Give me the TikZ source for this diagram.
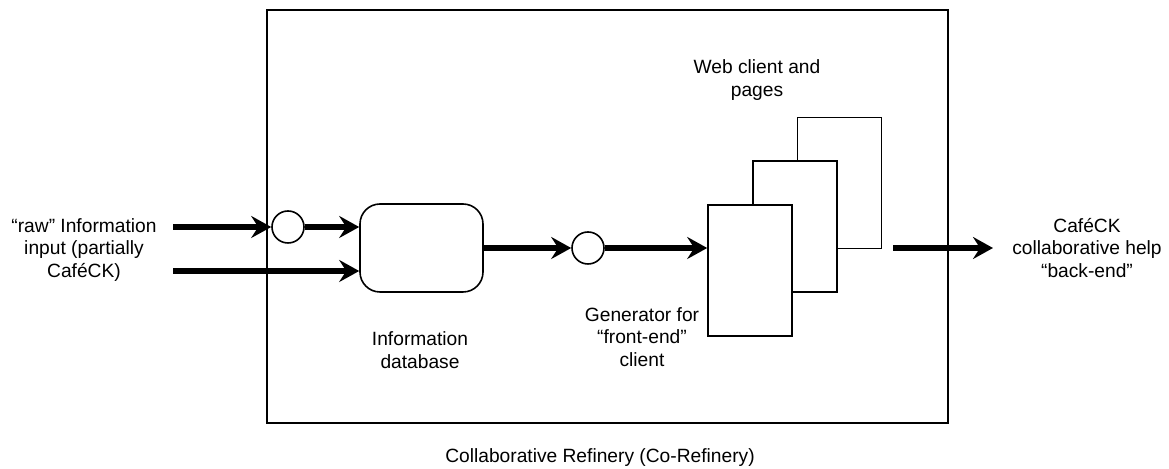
\documentclass[tikz,border=0pt]{standalone}
\usepackage{fontspec}
\setmainfont{Liberation Sans}
\usepackage{tikz}
\usetikzlibrary{positioning, arrows.meta, calc}

\begin{document}
\begin{tikzpicture}[x=0.5pt, y=-0.5pt, >=Stealth,
      font=\fontsize{9.6}{11.3}\selectfont,
      flow/.style={->, line width=2.6pt,
        arrows={-Stealth[length=10pt, width=11pt, inset=3.5pt]}},
      hub/.style={draw, circle, line width=0.8pt, minimum size=16pt, inner sep=0pt},
      store/.style={draw, rounded corners=10pt, line width=0.8pt,
        minimum width=61.5pt, minimum height=44pt, inner sep=0pt},
      pagebox/.style={draw, fill=white, line width=0.8pt,
        minimum width=42pt, minimum height=65.5pt, inner sep=0pt},
      lbl/.style={align=center, inner sep=1pt},
      frame/.style={draw, line width=0.9pt, minimum width=340.5pt,
        minimum height=206.5pt, inner sep=0pt}]

    \useasboundingbox (0,0) rectangle (1169,469);

    %% ---- the refinery box -----------------------------------------------
    \node[frame] (refinery) at (607.5,216.5) {};
    \node[lbl] (caption) at (600,458) {Collaborative Refinery (Co-Refinery)};

    %% ---- inputs -----------------------------------------------------------
    \node[lbl] (rawtxt) at (84,250)
      {“raw” Information\\input (partially\\CaféCK)};
    \coordinate (in1s) at (173,227);
    \coordinate (in2s) at (173,271);

    \node[hub]   (c1) at (288,227) {};
    \node[store] (db) at (421.5,248) {};
    \node[lbl] (dbtxt) at (420,350) {Information\\database};

    %% ---- generator and pages ----------------------------------------------
    \node[hub] (c2) at (588,248) {};
    \node[lbl] (gentxt) at (642,337) {Generator for\\“front-end”\\client};

    \node[pagebox] (back)  at (839.5,183) {};
    \node[pagebox] (mid)   at (795,226.5) {};
    \node[pagebox] (front) at (750,270.5) {};
    \node[lbl] (webtxt) at (757,80) {Web client and\\pages};

    %% ---- output -------------------------------------------------------------
    \coordinate (outs) at (893,248);
    \coordinate (oute) at (993,248);
    \node[lbl] (outtxt) at (1087,248)
      {CaféCK\\collaborative help\\“back-end”};

    %% ---- arrows ---------------------------------------------------------------
    \draw[flow] (in1s) -- (c1.west);
    \draw[flow] (c1.east) -- (c1 -| db.west);
    \draw[flow] (in2s) -- (in2s -| db.west);
    \draw[flow] (c2 -| db.east) -- (c2.west);
    \draw[flow] (c2.east) -- (c2 -| front.west);
    \draw[flow] (outs) -- (oute);
  \end{tikzpicture}
\end{document}
